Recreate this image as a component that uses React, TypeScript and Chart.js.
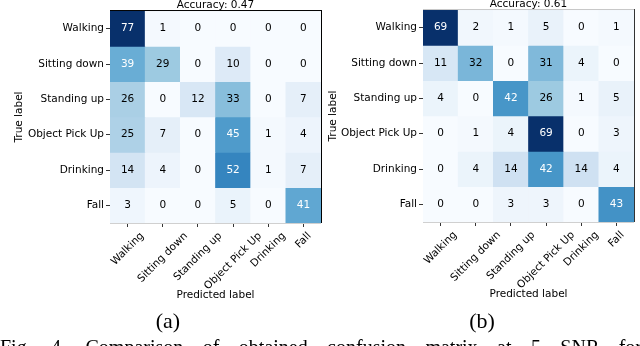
import React, { useEffect, useRef } from "react";
import { Chart, registerables } from "chart.js";

Chart.register(...registerables);

const predictedLabels = ["Walking", "Sitting down", "Standing up", "Object Pick Up", "Drinking", "Fall"];
const trueLabels = ["Walking", "Sitting down", "Standing up", "Object Pick Up", "Drinking", "Fall"];

const matrixA = [
  [77, 1, 0, 0, 0, 0],
  [39, 29, 0, 10, 0, 0],
  [26, 0, 12, 33, 0, 7],
  [25, 7, 0, 45, 1, 4],
  [14, 4, 0, 52, 1, 7],
  [3, 0, 0, 5, 0, 41],
];

const matrixB = [
  [69, 2, 1, 5, 0, 1],
  [11, 32, 0, 31, 4, 0],
  [4, 0, 42, 26, 1, 5],
  [0, 1, 4, 69, 0, 3],
  [0, 4, 14, 42, 14, 4],
  [0, 0, 3, 3, 0, 43],
];

const titleA = "Accuracy: 0.47";
const titleB = "Accuracy: 0.61";
const xTitle = "Predicted label";
const yTitle = "True label";

const FONT = "DejaVu Sans";
const FS = 10.5;

const BLUES = ["#f7fbff", "#deebf7", "#c6dbef", "#9ecae1", "#6baed6", "#4292c6", "#2171b5", "#08519c", "#08306b"];

function hexToRgb(h: string) {
  const n = parseInt(h.slice(1), 16);
  return [(n >> 16) & 255, (n >> 8) & 255, n & 255];
}

function blues(t: number) {
  const c = Math.max(0, Math.min(1, t));
  const p = c * 8;
  const i = Math.min(7, Math.floor(p));
  const f = p - i;
  const a = hexToRgb(BLUES[i]);
  const b = hexToRgb(BLUES[i + 1]);
  const m = a.map((v, k) => Math.round(v + (b[k] - v) * f));
  return `rgb(${m[0]},${m[1]},${m[2]})`;
}

type Spines = { top?: string; right?: string; bottom?: string; left?: string };

function Matrix(props: {
  matrix: number[][];
  title: string;
  left: number;
  top: number;
  width: number;
  height: number;
  yWidth: number;
  padRight: number;
  yTitlePad: number;
  spines: Spines;
}) {
  const ref = useRef<HTMLCanvasElement>(null);
  const { matrix, title, left, top, width, height, yWidth, padRight, yTitlePad, spines } = props;

  useEffect(() => {
    const flat = matrix.flat();
    const max = Math.max(...flat);
    const min = Math.min(...flat);
    const thresh = (max + min) / 2;

    const datasets = trueLabels.map((row, i) => ({
      label: row,
      data: predictedLabels.map(() => 1),
      backgroundColor: matrix[i].map((v) => blues((v - min) / (max - min))),
      borderWidth: 0,
      barPercentage: 1,
      categoryPercentage: 1,
      stack: "s",
    }));

    const cellText = {
      id: "cellText",
      afterDatasetsDraw(chart: any) {
        const ctx = chart.ctx;
        ctx.save();
        ctx.font = `${FS}px "${FONT}"`;
        ctx.textAlign = "center";
        ctx.textBaseline = "middle";
        chart.data.datasets.forEach((_: any, i: number) => {
          const meta = chart.getDatasetMeta(i);
          meta.data.forEach((el: any, j: number) => {
            const v = matrix[i][j];
            ctx.fillStyle = v < thresh ? "#000000" : "#ffffff";
            ctx.fillText(String(v), el.x, (el.y + el.base) / 2);
          });
        });
        ctx.restore();
      },
    };

    const extras = {
      id: "extras",
      afterDraw(chart: any) {
        const ctx = chart.ctx;
        const a = chart.chartArea;
        ctx.save();
        ctx.lineWidth = 1;
        const line = (x1: number, y1: number, x2: number, y2: number, c?: string) => {
          if (!c) return;
          ctx.strokeStyle = c;
          ctx.beginPath();
          ctx.moveTo(x1, y1);
          ctx.lineTo(x2, y2);
          ctx.stroke();
        };
        line(a.left, a.top - 0.5, a.right, a.top - 0.5, spines.top);
        line(a.right + 0.5, a.top - 1, a.right + 0.5, a.bottom, spines.right);
        line(a.left, a.bottom + 0.5, a.right, a.bottom + 0.5, spines.bottom);
        line(a.left - 0.5, a.top, a.left - 0.5, a.bottom, spines.left);

        const xs = chart.scales.x;
        ctx.font = `${FS}px "${FONT}"`;
        ctx.fillStyle = "#000";
        ctx.textAlign = "center";
        ctx.textBaseline = "middle";
        (chart.data.labels as string[]).forEach((lab, i) => {
          const px = xs.getPixelForTick(i);
          const w = ctx.measureText(lab).width;
          const h = FS * 1.15;
          const cy = a.bottom + 7 + ((w + h) * Math.SQRT1_2) / 2;
          ctx.save();
          ctx.translate(px, cy);
          ctx.rotate(-Math.PI / 4);
          ctx.fillText(lab, 0, 0);
          ctx.restore();
        });
        ctx.restore();
      },
    };

    const font = { family: FONT, size: FS, lineHeight: 1.05 };

    const chart = new Chart(ref.current as HTMLCanvasElement, {
      type: "bar",
      data: { labels: predictedLabels, datasets: datasets as any },
      options: {
        animation: false,
        responsive: false,
        maintainAspectRatio: false,
        layout: { padding: { left: 0, right: padRight, top: 0, bottom: 0 } },
        plugins: {
          legend: { display: false },
          tooltip: { enabled: false },
          title: {
            display: true,
            text: title,
            fullSize: false,
            padding: 0,
            color: "#000",
            font: { family: FONT, size: FS, lineHeight: 1.05, weight: "normal" },
          } as any,
        },
        scales: {
          x: {
            stacked: true,
            offset: true,
            grid: { offset: false, drawOnChartArea: false, drawTicks: true, tickLength: 4, color: "#000", lineWidth: 0.8 },
            border: { display: false },
            ticks: { display: false },
            title: { display: true, text: xTitle, color: "#000", font, padding: { top: 0, bottom: 9.5 } },
            afterFit: (s: any) => {
              s.height = height - 223;
            },
          } as any,
          y: {
            stacked: true,
            reverse: true,
            min: 0,
            max: 6,
            afterBuildTicks: (s: any) => {
              s.ticks = trueLabels.map((_, i) => ({ value: i + 0.5 }));
            },
            ticks: {
              autoSkip: false,
              color: "#000",
              font: { family: FONT, size: FS },
              padding: 2,
              callback: (v: any) => trueLabels[Math.floor(Number(v))],
            },
            grid: { drawOnChartArea: false, drawTicks: true, tickLength: 4, color: "#000", lineWidth: 0.8 },
            border: { display: false },
            title: { display: true, text: yTitle, color: "#000", font, padding: { top: yTitlePad, bottom: 0 } },
            afterFit: (s: any) => {
              s.width = yWidth;
            },
          } as any,
        },
      },
      plugins: [cellText, extras],
    });
    return () => chart.destroy();
  }, []);

  return (
    <canvas
      ref={ref}
      width={width}
      height={height}
      style={{ position: "absolute", left, top, width, height }}
    />
  );
}

export default function App() {
  return (
    <div
      style={{
        position: "absolute",
        left: 0,
        top: 0,
        width: 640,
        height: 346,
        overflow: "hidden",
        background: "#fff",
      }}
    >
      <Matrix
        matrix={matrixA}
        title={titleA}
        left={0}
        top={0}
        width={322}
        height={310}
        yWidth={110}
        padRight={1}
        yTitlePad={13.5}
        spines={{ top: "#000", right: "#000", bottom: "#d0d0d0" }}
      />
      <Matrix
        matrix={matrixB}
        title={titleB}
        left={322}
        top={-1}
        width={318}
        height={310}
        yWidth={101}
        padRight={6}
        yTitlePad={5.5}
        spines={{ top: "#c8c8c8", right: "#333", bottom: "#d0d0d0" }}
      />
      <div
        style={{
          position: "absolute",
          left: 148,
          top: 310,
          width: 40,
          textAlign: "center",
          fontFamily: '"Liberation Serif", serif',
          fontSize: 22,
          lineHeight: "22px",
          color: "#000",
        }}
      >
        (a)
      </div>
      <div
        style={{
          position: "absolute",
          left: 462,
          top: 310,
          width: 40,
          textAlign: "center",
          fontFamily: '"Liberation Serif", serif',
          fontSize: 22,
          lineHeight: "22px",
          color: "#000",
        }}
      >
        (b)
      </div>
      <div
        style={{
          position: "absolute",
          left: 0,
          top: 337,
          width: 642,
          fontFamily: '"Liberation Serif", serif',
          fontSize: 20,
          lineHeight: "20px",
          color: "#000",
          textAlign: "justify",
          textAlignLast: "justify" as any,
        }}
      >
        Fig. 4. Comparison of obtained confusion matrix at 5 SNR for
      </div>
    </div>
  );
}
